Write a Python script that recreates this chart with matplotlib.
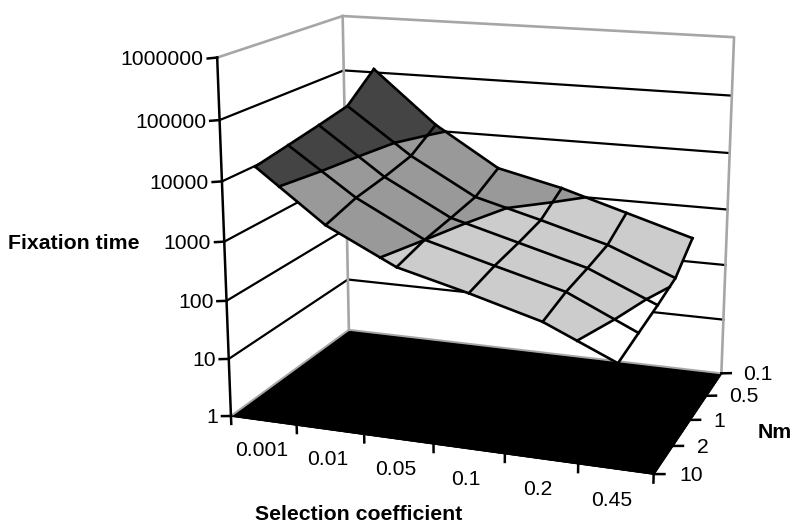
import numpy as np
import matplotlib
matplotlib.use("Agg")
import matplotlib.pyplot as plt
from mpl_toolkits.mplot3d import proj3d
from mpl_toolkits.mplot3d.art3d import Poly3DCollection

plt.rcParams['font.family'] = ['Liberation Sans', 'DejaVu Sans']

selection = ['0.001', '0.01', '0.05', '0.1', '0.2', '0.45']
nm = ['10', '2', '1', '0.5', '0.1']
time_ticks = ['1', '10', '100', '1000', '10000', '100000', '1000000']

# one row per selection coefficient, one column per Nm (same order as nm)
fixation_time = [
    [19500, 24500, 30900, 39800, 115000],
    [2750, 3980, 4790, 6170, 12900],
    [741, 1002, 1175, 1410, 2510],
    [372, 479, 562, 692, 1350],
    [174, 234, 269, 324, 603],
    [52, 66, 83, 110, 269],
]

# surface colour for each decade of fixation time (10-100 up to 10000-100000)
band_edges = [1, 2, 3, 4, 7]
band_colors = ['#ffffff', '#cccccc', '#999999', '#444444']

grey = '#a6a6a6'
tick_size = 15.2
title_size = 15.3


def clip_poly(poly, level, keep_above):
    # cut a polygon at height level, keep one side
    out = []
    for i in range(len(poly)):
        a = poly[i]
        b = poly[(i + 1) % len(poly)]
        a_in = a[2] >= level if keep_above else a[2] <= level
        b_in = b[2] >= level if keep_above else b[2] <= level
        if a_in:
            out.append(a)
        if a_in != b_in:
            t = (level - a[2]) / (b[2] - a[2])
            out.append(a + t * (b - a))
    return out


def contour_segment(poly, level):
    # points where the cell edges cross height level
    pts = []
    for i in range(len(poly)):
        a = poly[i]
        b = poly[(i + 1) % len(poly)]
        if (a[2] - level) * (b[2] - level) < 0:
            t = (level - a[2]) / (b[2] - a[2])
            pts.append(a + t * (b - a))
    return pts


def label(x, y, z_pos, text, **kwargs):
    # flat text placed at a 3d position
    px, py, _ = proj3d.proj_transform(x, y, z_pos, ax.get_proj())
    ax.text2D(px, py, text, transform=ax.transData, fontsize=tick_size, va='center', **kwargs)


z = np.log10(np.array(fixation_time, dtype=float))
n_x, n_y = z.shape
x_lo, x_hi = -0.5, n_x - 0.5
y_lo, y_hi = 0, n_y - 1
z_hi = len(time_ticks) - 1

fig = plt.figure(figsize=(8, 5.32), dpi=100)
ax = fig.add_axes([0.2129, -0.0137, 0.76495, 1.1503], projection='3d', computed_zorder=False)
ax.set_axis_off()
ax.set_xlim(x_lo, x_hi)
ax.set_ylim(y_lo, y_hi)
ax.set_zlim(0, z_hi)
ax.view_init(elev=14.984, azim=-70.353, roll=-0.0605)
ax.set_proj_type('persp', focal_length=0.5345)
ax.set_box_aspect((1, 0.6678, 0.8327))

# floor
floor = [[(x_lo, y_lo, 0), (x_hi, y_lo, 0), (x_hi, y_hi, 0), (x_lo, y_hi, 0)]]
ax.add_collection3d(Poly3DCollection(floor, facecolors='black', edgecolors='black',
                                     linewidths=0.5, zorder=1))

# walls
for level in range(1, z_hi):
    ax.plot([x_lo, x_lo, x_hi], [y_lo, y_hi, y_hi], [level, level, level],
            color='black', lw=1.6, zorder=2)
ax.plot([x_lo, x_lo], [y_hi, y_hi], [0, z_hi], color=grey, lw=1.9, zorder=2)
ax.plot([x_lo, x_lo, x_hi, x_hi], [y_lo, y_hi, y_hi, y_hi], [z_hi, z_hi, z_hi, 0],
        color=grey, lw=1.9, zorder=2)
ax.plot([x_lo, x_lo, x_hi], [y_lo, y_hi, y_hi], [0, 0, 0], color=grey, lw=1.4, zorder=2)

# surface, cut up by decade
polys = [[] for c in band_colors]
segments = []
for i in range(n_x - 1):
    for j in range(n_y - 1):
        cell = [np.array([i, j, z[i, j]]), np.array([i + 1, j, z[i + 1, j]]),
                np.array([i + 1, j + 1, z[i + 1, j + 1]]), np.array([i, j + 1, z[i, j + 1]])]
        for b in range(len(band_colors)):
            part = clip_poly(cell, band_edges[b], True)
            if part:
                part = clip_poly(part, band_edges[b + 1], False)
            if len(part) > 2:
                polys[b].append(part)
        for level in band_edges[1:-1]:
            pts = contour_segment(cell, level)
            if len(pts) == 2:
                segments.append(pts)

for b in range(len(band_colors)):
    ax.add_collection3d(Poly3DCollection(polys[b], facecolors=band_colors[b],
                                         edgecolors=band_colors[b], linewidths=0.4, zorder=3))

for i in range(n_x):
    ax.plot([i] * n_y, range(n_y), z[i, :], color='black', lw=1.9, zorder=4)
for j in range(n_y):
    ax.plot(range(n_x), [j] * n_x, z[:, j], color='black', lw=1.9, zorder=4)
for a, b in segments:
    ax.plot([a[0], b[0]], [a[1], b[1]], [a[2], b[2]], color='black', lw=1.9, zorder=4)

# axis lines and ticks
ax.plot([x_lo, x_lo], [y_lo, y_lo], [0, z_hi], color='black', lw=1.8, zorder=5)
ax.plot([x_lo, x_hi, x_hi], [y_lo, y_lo, y_hi], [0, 0, 0], color='black', lw=1.0, zorder=5)

for k, text in enumerate(time_ticks):
    ax.plot([x_lo, x_lo - 0.14], [y_lo, y_lo], [k, k - 0.024], color='black', lw=1.8, zorder=5)
    label(x_lo - 0.2, y_lo, k - 0.05, text, ha='right')

for k in range(n_x + 1):
    ax.plot([x_lo + k, x_lo + k], [y_lo, y_lo], [0, -0.14], color='black', lw=1.8, zorder=5)
for i, text in enumerate(selection):
    label(i - 0.04, y_lo, -0.53, text, ha='center')

for j, text in enumerate(nm):
    ax.plot([x_hi, x_hi + 0.14], [j, j], [0, 0.024], color='black', lw=1.8, zorder=5)
    label(x_hi + 0.33, j, 0.03, text, ha='left')

fig.text(8 / 800, 1 - 243 / 532, 'Fixation time', fontsize=title_size, fontweight='bold',
         ha='left', va='center')
fig.text(359 / 800, 1 - 514 / 532, 'Selection coefficient', fontsize=title_size,
         fontweight='bold', ha='center', va='center')
fig.text(775 / 800, 1 - 433 / 532, 'Nm', fontsize=title_size, fontweight='bold',
         ha='center', va='center')

fig.savefig('out.png', dpi=100)
